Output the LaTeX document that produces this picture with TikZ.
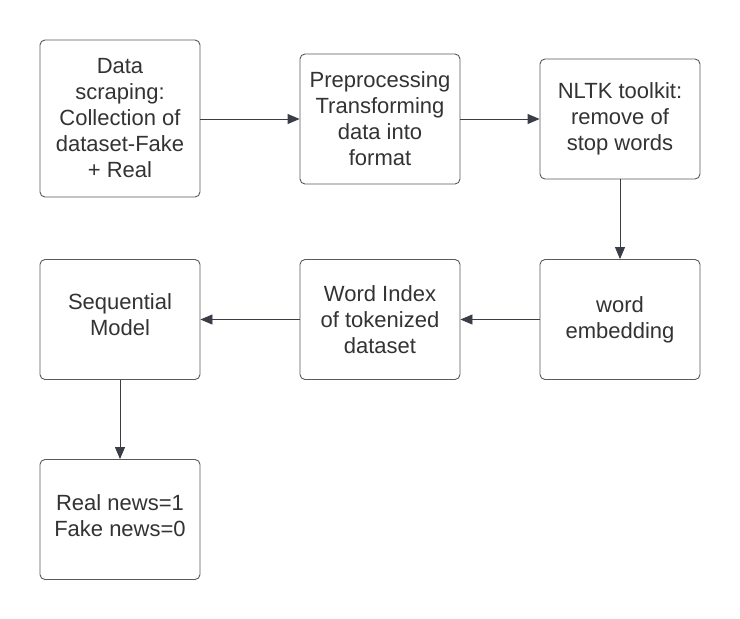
\documentclass[tikz,border=0pt]{standalone}
\usepackage{fontspec}
\setmainfont{Liberation Sans}
\usetikzlibrary{arrows.meta}
\definecolor{edge}{HTML}{3A3D45}
\definecolor{boxline}{HTML}{5A5A5A}
\definecolor{txt}{HTML}{333333}
\tikzset{
  stepbox/.style={draw=boxline, line width=0.9pt, rounded corners=5pt, align=center,
    text=txt, font=\fontsize{22}{26}\selectfont, inner sep=0pt},
  conn/.style={draw=edge, line width=0.9pt, -{Triangle[length=12pt,width=10pt]}}
}
\begin{document}
\begin{tikzpicture}[x=1pt,y=1pt]
\useasboundingbox (0,0) rectangle (740,-619);
\fill[white] (0,0) rectangle (740,-619);
\node[stepbox, minimum width=160pt, minimum height=157pt] (a) at (120,-118.5) {Data\\scraping:\\Collection of\\dataset-Fake\\+ Real};
\node[stepbox, minimum width=160pt, minimum height=130pt] (b) at (380,-119) {Preprocessing\\Transforming\\data into\\format};
\node[stepbox, minimum width=160pt, minimum height=120pt] (c) at (620,-119) {NLTK toolkit:\\remove of\\stop words};
\node[stepbox, minimum width=160pt, minimum height=120pt] (d) at (620,-319.5) {word\\embedding};
\node[stepbox, minimum width=160pt, minimum height=120pt] (e) at (380,-319.5) {Word Index\\of tokenized\\dataset};
\node[stepbox, minimum width=160pt, minimum height=120pt] (f) at (120,-319.5) {};
\node[text=txt, font=\fontsize{22}{26}\selectfont, align=center] (ft) at (120,-315) {Sequential\\Model};
\node[stepbox, minimum width=160pt, minimum height=120pt] (g) at (120,-519.5) {};
\node[text=txt, font=\fontsize{22}{26}\selectfont, align=center] (gt) at (120,-516) {Real news=1\\Fake news=0};
\draw[conn] (a.east |- 0,-119) -- (b.west |- 0,-119);
\draw[conn] (b.east |- 0,-119) -- (c.west |- 0,-119);
\draw[conn] (c.south) -- (d.north);
\draw[conn] (d.west) -- (e.east);
\draw[conn] (e.west) -- (f.east);
\draw[conn] (f.south) -- (g.north);
\end{tikzpicture}
\end{document}
